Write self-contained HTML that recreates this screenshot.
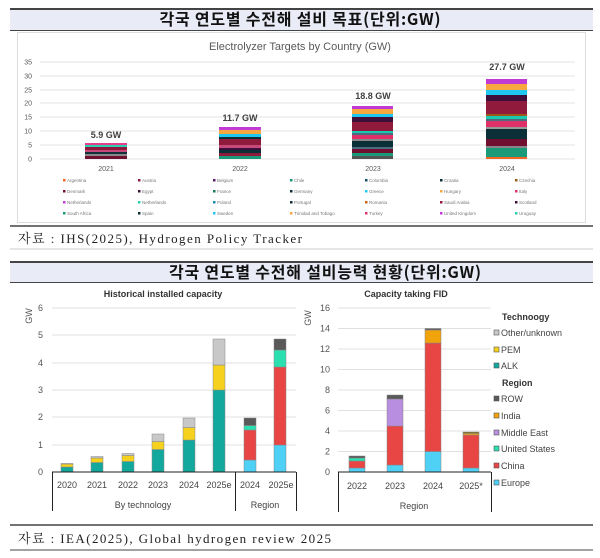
<!DOCTYPE html>
<html><head><meta charset="utf-8"><style>
body{margin:0;background:#fff;}
svg{display:block}
.k{font-family:"Noto Sans CJK KR","WenQuanYi Zen Hei",sans-serif;font-weight:bold}
.s{font-family:"Liberation Serif","Noto Serif CJK SC",serif}
.a{font-family:"Liberation Sans",Arial,sans-serif}
</style></head><body>
<svg width="600" height="558" viewBox="0 0 600 558" xmlns="http://www.w3.org/2000/svg">
<rect x="10" y="9" width="583" height="21" fill="#e9ebf7"/>
<line x1="10" y1="9" x2="593" y2="9" stroke="#444" stroke-width="2"/>
<line x1="10" y1="30.5" x2="593" y2="30.5" stroke="#444" stroke-width="1"/>
<text x="300" y="25" text-anchor="middle" class="k" font-size="16" fill="#111" textLength="281">각국 연도별 수전해 설비 목표(단위:GW)</text>
<rect x="17.5" y="32.5" width="568" height="190" fill="#fff" stroke="#ddd"/>
<text x="300" y="50" text-anchor="middle" class="a" font-size="11" fill="#595959">Electrolyzer Targets by Country (GW)</text>
<g class="a" font-size="7" fill="#595959" text-anchor="end">
<g stroke="#e3e3e3" stroke-width="1">
<line x1="40" y1="62" x2="575" y2="62"/><line x1="40" y1="76" x2="575" y2="76"/><line x1="40" y1="90" x2="575" y2="90"/><line x1="40" y1="103" x2="575" y2="103"/><line x1="40" y1="117" x2="575" y2="117"/><line x1="40" y1="131" x2="575" y2="131"/><line x1="40" y1="145" x2="575" y2="145"/><line x1="40" y1="159" x2="575" y2="159"/>
</g>
<text x="32" y="64.5">35</text><text x="32" y="78.5">30</text><text x="32" y="92.5">25</text><text x="32" y="105.5">20</text><text x="32" y="119.5">15</text><text x="32" y="133.5">10</text><text x="32" y="147.5">5</text><text x="32" y="161.5">0</text>
</g>
<g>
<rect x="85" y="143" width="42" height="16" fill="#5a2a4a"/>
<rect x="85" y="143" width="42" height="2" fill="#e43f8c"/>
<rect x="85" y="145" width="42" height="2" fill="#2ad0b0"/>
<rect x="85" y="147" width="42" height="3" fill="#8f1a3c"/>
<rect x="85" y="150" width="42" height="2" fill="#c54a7a"/>
<rect x="85" y="152" width="42" height="2" fill="#13303a"/>
<rect x="85" y="154" width="42" height="2" fill="#888"/>
<rect x="85" y="156" width="42" height="3" fill="#6f1030"/>
</g>
<g>
<rect x="219" y="127" width="42" height="32" fill="#6f1030"/>
<rect x="219" y="127" width="42" height="3" fill="#c23ad6"/>
<rect x="219" y="130" width="42" height="4" fill="#f7a740"/>
<rect x="219" y="134" width="42" height="3" fill="#1ec8f0"/>
<rect x="219" y="137" width="42" height="2" fill="#0b2f36"/>
<rect x="219" y="139" width="42" height="6" fill="#8f1a3c"/>
<rect x="219" y="145" width="42" height="3" fill="#c54a7a"/>
<rect x="219" y="148" width="42" height="2" fill="#3d0f3a"/>
<rect x="219" y="150" width="42" height="3" fill="#0b2f36"/>
<rect x="219" y="153" width="42" height="3" fill="#8f1a3c"/>
<rect x="219" y="156" width="42" height="3" fill="#1a9a78"/>
</g>
<g>
<rect x="352" y="106" width="41" height="53" fill="#6f1030"/>
<rect x="352" y="106" width="41" height="3" fill="#c23ad6"/>
<rect x="352" y="109" width="41" height="5" fill="#f7a740"/>
<rect x="352" y="114" width="41" height="3" fill="#1ec8f0"/>
<rect x="352" y="117" width="41" height="5" fill="#3d0f3a"/>
<rect x="352" y="122" width="41" height="9" fill="#8f1a3c"/>
<rect x="352" y="131" width="41" height="2" fill="#1bc9b0"/>
<rect x="352" y="133" width="41" height="2" fill="#4a6d80"/>
<rect x="352" y="135" width="41" height="4" fill="#e0306a"/>
<rect x="352" y="139" width="41" height="2" fill="#888"/>
<rect x="352" y="141" width="41" height="6" fill="#0b2f36"/>
<rect x="352" y="147" width="41" height="2" fill="#4a6d80"/>
<rect x="352" y="149" width="41" height="4" fill="#6f1030"/>
<rect x="352" y="153" width="41" height="3" fill="#1a9a78"/>
<rect x="352" y="156" width="41" height="3" fill="#555"/>
</g>
<g>
<rect x="486" y="79" width="41" height="80" fill="#6f1030"/>
<rect x="486" y="79" width="41" height="5" fill="#c23ad6"/>
<rect x="486" y="84" width="41" height="6" fill="#f7a740"/>
<rect x="486" y="90" width="41" height="5" fill="#1ec8f0"/>
<rect x="486" y="95" width="41" height="6" fill="#3d0f3a"/>
<rect x="486" y="101" width="41" height="13" fill="#8f1a3c"/>
<rect x="486" y="114" width="41" height="2" fill="#9b5a1a"/>
<rect x="486" y="116" width="41" height="3" fill="#1bc9b0"/>
<rect x="486" y="119" width="41" height="2" fill="#4a6d80"/>
<rect x="486" y="121" width="41" height="6" fill="#e0306a"/>
<rect x="486" y="127" width="41" height="2" fill="#999"/>
<rect x="486" y="129" width="41" height="10" fill="#0b2f36"/>
<rect x="486" y="139" width="41" height="7" fill="#6f1030"/>
<rect x="486" y="146" width="41" height="2" fill="#888"/>
<rect x="486" y="148" width="41" height="9" fill="#1a9a78"/>
<rect x="486" y="157" width="41" height="2" fill="#f26522"/>
</g>
<g class="a" font-size="9" font-weight="bold" fill="#404040" text-anchor="middle">
<text x="106" y="138">5.9 GW</text><text x="240" y="121">11.7 GW</text><text x="373" y="99">18.8 GW</text><text x="507" y="70">27.7 GW</text>
</g>
<g class="a" font-size="7" fill="#595959" text-anchor="middle">
<text x="106" y="171">2021</text><text x="240" y="171">2022</text><text x="373" y="171">2023</text><text x="507" y="171">2024</text>
</g>
<g class="a" font-size="4.5" fill="#777">
<g transform="translate(63,182)"><rect x="0" y="-3" width="2.5" height="2.5" fill="#f26522"/><text x="4">Argentina</text></g>
<g transform="translate(138,182)"><rect x="0" y="-3" width="2.5" height="2.5" fill="#8f1a3c"/><text x="4">Austria</text></g>
<g transform="translate(213,182)"><rect x="0" y="-3" width="2.5" height="2.5" fill="#5a1a6a"/><text x="4">Belgium</text></g>
<g transform="translate(290,182)"><rect x="0" y="-3" width="2.5" height="2.5" fill="#1a9a78"/><text x="4">Chile</text></g>
<g transform="translate(365,182)"><rect x="0" y="-3" width="2.5" height="2.5" fill="#13506a"/><text x="4">Colombia</text></g>
<g transform="translate(440,182)"><rect x="0" y="-3" width="2.5" height="2.5" fill="#0b2f36"/><text x="4">Croatia</text></g>
<g transform="translate(515,182)"><rect x="0" y="-3" width="2.5" height="2.5" fill="#9b5a1a"/><text x="4">Czechia</text></g>
<g transform="translate(63,193)"><rect x="0" y="-3" width="2.5" height="2.5" fill="#6f1030"/><text x="4">Denmark</text></g>
<g transform="translate(138,193)"><rect x="0" y="-3" width="2.5" height="2.5" fill="#3d0f3a"/><text x="4">Egypt</text></g>
<g transform="translate(213,193)"><rect x="0" y="-3" width="2.5" height="2.5" fill="#1a7a58"/><text x="4">France</text></g>
<g transform="translate(290,193)"><rect x="0" y="-3" width="2.5" height="2.5" fill="#0b2f36"/><text x="4">Germany</text></g>
<g transform="translate(365,193)"><rect x="0" y="-3" width="2.5" height="2.5" fill="#1ec8f0"/><text x="4">Greece</text></g>
<g transform="translate(440,193)"><rect x="0" y="-3" width="2.5" height="2.5" fill="#f7a740"/><text x="4">Hungary</text></g>
<g transform="translate(515,193)"><rect x="0" y="-3" width="2.5" height="2.5" fill="#e0306a"/><text x="4">Italy</text></g>
<g transform="translate(63,204)"><rect x="0" y="-3" width="2.5" height="2.5" fill="#c23ad6"/><text x="4">Netherlands</text></g>
<g transform="translate(138,204)"><rect x="0" y="-3" width="2.5" height="2.5" fill="#2ad0b0"/><text x="4">Netherlands</text></g>
<g transform="translate(213,204)"><rect x="0" y="-3" width="2.5" height="2.5" fill="#1a8aa8"/><text x="4">Poland</text></g>
<g transform="translate(290,204)"><rect x="0" y="-3" width="2.5" height="2.5" fill="#13303a"/><text x="4">Portugal</text></g>
<g transform="translate(365,204)"><rect x="0" y="-3" width="2.5" height="2.5" fill="#c8641a"/><text x="4">Romania</text></g>
<g transform="translate(440,204)"><rect x="0" y="-3" width="2.5" height="2.5" fill="#8f1a3c"/><text x="4">Saudi Arabia</text></g>
<g transform="translate(515,204)"><rect x="0" y="-3" width="2.5" height="2.5" fill="#3d0f3a"/><text x="4">Scotland</text></g>
<g transform="translate(63,215)"><rect x="0" y="-3" width="2.5" height="2.5" fill="#1a9a78"/><text x="4">South Africa</text></g>
<g transform="translate(138,215)"><rect x="0" y="-3" width="2.5" height="2.5" fill="#0b2f36"/><text x="4">Spain</text></g>
<g transform="translate(213,215)"><rect x="0" y="-3" width="2.5" height="2.5" fill="#1ec8f0"/><text x="4">Sweden</text></g>
<g transform="translate(290,215)"><rect x="0" y="-3" width="2.5" height="2.5" fill="#f7a740"/><text x="4">Trinidad and Tobago</text></g>
<g transform="translate(365,215)"><rect x="0" y="-3" width="2.5" height="2.5" fill="#e0306a"/><text x="4">Turkey</text></g>
<g transform="translate(440,215)"><rect x="0" y="-3" width="2.5" height="2.5" fill="#c23ad6"/><text x="4">United Kingdom</text></g>
<g transform="translate(515,215)"><rect x="0" y="-3" width="2.5" height="2.5" fill="#2ad0b0"/><text x="4">Uruguay</text></g>
</g>
<line x1="10" y1="226" x2="593" y2="226" stroke="#444" stroke-width="1.5"/>
<text x="18" y="243" class="s" font-size="13" fill="#222" textLength="284">자료 : IHS(2025), Hydrogen Policy Tracker</text>
<line x1="10" y1="249" x2="593" y2="249" stroke="#ccc" stroke-width="1"/>

<rect x="10" y="262" width="583" height="20" fill="#e9ebf7"/>
<line x1="10" y1="262" x2="593" y2="262" stroke="#444" stroke-width="2"/>
<line x1="10" y1="282.5" x2="593" y2="282.5" stroke="#444" stroke-width="1"/>
<text x="325" y="278" text-anchor="middle" class="k" font-size="16" fill="#111" textLength="312">각국 연도별 수전해 설비능력 현황(단위:GW)</text>

<text x="163" y="297" text-anchor="middle" class="a" font-size="9" font-weight="bold" fill="#333">Historical installed capacity</text>
<text x="406" y="297" text-anchor="middle" class="a" font-size="9" font-weight="bold" fill="#333">Capacity taking FID</text>

<g stroke="#e0e0e0" stroke-width="1">
<line x1="52" y1="308" x2="296" y2="308"/><line x1="52" y1="335" x2="296" y2="335"/><line x1="52" y1="363" x2="296" y2="363"/><line x1="52" y1="390" x2="296" y2="390"/><line x1="52" y1="417" x2="296" y2="417"/><line x1="52" y1="445" x2="296" y2="445"/>
</g>
<g class="a" font-size="9" fill="#555" text-anchor="end">
<text x="43" y="311">6</text><text x="43" y="338">5</text><text x="43" y="366">4</text><text x="43" y="393">3</text><text x="43" y="420">2</text><text x="43" y="448">1</text><text x="43" y="475">0</text>
</g>
<text transform="translate(32,316) rotate(-90)" text-anchor="middle" class="a" font-size="9" fill="#555">GW</text>
<g stroke="#888" stroke-width="0.5">
<rect x="61" y="467" width="12" height="5" fill="#13a89e"/><rect x="61" y="464" width="12" height="3" fill="#f6d21f"/><rect x="61" y="463.5" width="12" height="0.5" fill="#c8c8c8"/>
<rect x="91" y="462.5" width="12" height="9.5" fill="#13a89e"/><rect x="91" y="458" width="12" height="4.5" fill="#f6d21f"/><rect x="91" y="456.5" width="12" height="1.5" fill="#c8c8c8"/>
<rect x="122" y="461.5" width="12" height="10.5" fill="#13a89e"/><rect x="122" y="455.5" width="12" height="6" fill="#f6d21f"/><rect x="122" y="453.5" width="12" height="2" fill="#c8c8c8"/>
<rect x="152" y="449.5" width="12" height="22.5" fill="#13a89e"/><rect x="152" y="441.5" width="12" height="8" fill="#f6d21f"/><rect x="152" y="434" width="12" height="7.5" fill="#c8c8c8"/>
<rect x="183" y="440" width="12" height="32" fill="#13a89e"/><rect x="183" y="427.5" width="12" height="12.5" fill="#f6d21f"/><rect x="183" y="418" width="12" height="9.5" fill="#c8c8c8"/>
<rect x="213" y="390" width="12" height="82" fill="#13a89e"/><rect x="213" y="365" width="12" height="25" fill="#f6d21f"/><rect x="213" y="339" width="12" height="26" fill="#c8c8c8"/>
<rect x="244" y="460" width="12" height="12" fill="#4fd0f5"/><rect x="244" y="430" width="12" height="30" fill="#e84545"/><rect x="244" y="425.5" width="12" height="4.5" fill="#2be0b0"/><rect x="244" y="418" width="12" height="7.5" fill="#595959"/>
<rect x="274" y="445" width="12" height="27" fill="#4fd0f5"/><rect x="274" y="367" width="12" height="78" fill="#e84545"/><rect x="274" y="350" width="12" height="17" fill="#2be0b0"/><rect x="274" y="339" width="12" height="11" fill="#595959"/>
</g>
<g stroke="#222" stroke-width="1">
<line x1="52" y1="472" x2="296" y2="472"/>
<line x1="52.5" y1="472" x2="52.5" y2="511"/><line x1="235.5" y1="472" x2="235.5" y2="511"/><line x1="296.5" y1="472" x2="296.5" y2="511"/>
</g>
<g class="a" font-size="9" fill="#444" text-anchor="middle">
<text x="67" y="488">2020</text><text x="97" y="488">2021</text><text x="128" y="488">2022</text><text x="158" y="488">2023</text><text x="189" y="488">2024</text><text x="219" y="488">2025e</text><text x="250" y="488">2024</text><text x="281" y="488">2025e</text>
<text x="143" y="508">By technology</text><text x="265" y="508">Region</text>
</g>

<g stroke="#e0e0e0" stroke-width="1">
<line x1="338" y1="308" x2="491" y2="308"/><line x1="338" y1="328.5" x2="491" y2="328.5"/><line x1="338" y1="349" x2="491" y2="349"/><line x1="338" y1="369.5" x2="491" y2="369.5"/><line x1="338" y1="390" x2="491" y2="390"/><line x1="338" y1="410.5" x2="491" y2="410.5"/><line x1="338" y1="431" x2="491" y2="431"/><line x1="338" y1="451.5" x2="491" y2="451.5"/>
</g>
<g class="a" font-size="9" fill="#555" text-anchor="end">
<text x="330" y="311">16</text><text x="330" y="331.5">14</text><text x="330" y="352">12</text><text x="330" y="372.5">10</text><text x="330" y="393">8</text><text x="330" y="413.5">6</text><text x="330" y="434">4</text><text x="330" y="454.5">2</text><text x="330" y="475">0</text>
</g>
<text transform="translate(311,318) rotate(-90)" text-anchor="middle" class="a" font-size="9" fill="#555">GW</text>
<g stroke="#888" stroke-width="0.5">
<rect x="349" y="468" width="16" height="4" fill="#4fd0f5"/><rect x="349" y="461" width="16" height="7" fill="#e84545"/><rect x="349" y="458" width="16" height="3" fill="#2be0b0"/><rect x="349" y="456" width="16" height="2" fill="#595959"/>
<rect x="387" y="465" width="16" height="7" fill="#4fd0f5"/><rect x="387" y="426" width="16" height="39" fill="#e84545"/><rect x="387" y="399" width="16" height="27" fill="#b88ee0"/><rect x="387" y="395" width="16" height="4" fill="#595959"/>
<rect x="425" y="451.5" width="16" height="20.5" fill="#4fd0f5"/><rect x="425" y="343" width="16" height="108.5" fill="#e84545"/><rect x="425" y="330" width="16" height="13" fill="#f0a30a"/><rect x="425" y="328.5" width="16" height="1.5" fill="#595959"/>
<rect x="463" y="468" width="16" height="4" fill="#4fd0f5"/><rect x="463" y="435" width="16" height="33" fill="#e84545"/><rect x="463" y="433" width="16" height="2" fill="#f0a30a"/><rect x="463" y="432" width="16" height="1.5" fill="#7a6a2a"/>
</g>
<g stroke="#222" stroke-width="1">
<line x1="338" y1="472" x2="491" y2="472"/>
<line x1="338.5" y1="472" x2="338.5" y2="512"/><line x1="491.5" y1="472" x2="491.5" y2="512"/>
</g>
<g class="a" font-size="9" fill="#444" text-anchor="middle">
<text x="357" y="489">2022</text><text x="395" y="489">2023</text><text x="433" y="489">2024</text><text x="471" y="489">2025*</text>
<text x="414" y="509">Region</text>
</g>
<g class="a" font-size="9" fill="#444">
<text x="502" y="320" font-weight="bold" fill="#333">Technoogy</text>
<rect x="494" y="330" width="5" height="5" fill="#c8c8c8" stroke="#555" stroke-width="0.6"/><text x="501" y="336">Other/unknown</text>
<rect x="494" y="347" width="5" height="5" fill="#f6d21f" stroke="#555" stroke-width="0.6"/><text x="501" y="353">PEM</text>
<rect x="494" y="363" width="5" height="5" fill="#13a89e" stroke="#555" stroke-width="0.6"/><text x="501" y="369">ALK</text>
<text x="502" y="386" font-weight="bold" fill="#333">Region</text>
<rect x="494" y="396" width="5" height="5" fill="#595959" stroke="#555" stroke-width="0.6"/><text x="501" y="402">ROW</text>
<rect x="494" y="413" width="5" height="5" fill="#f0a30a" stroke="#555" stroke-width="0.6"/><text x="501" y="419">India</text>
<rect x="494" y="430" width="5" height="5" fill="#b88ee0" stroke="#555" stroke-width="0.6"/><text x="501" y="436">Middle East</text>
<rect x="494" y="446" width="5" height="5" fill="#2be0b0" stroke="#555" stroke-width="0.6"/><text x="501" y="452">United States</text>
<rect x="494" y="463" width="5" height="5" fill="#e84545" stroke="#555" stroke-width="0.6"/><text x="501" y="469">China</text>
<rect x="494" y="480" width="5" height="5" fill="#4fd0f5" stroke="#555" stroke-width="0.6"/><text x="501" y="486">Europe</text>
</g>

<line x1="10" y1="525" x2="593" y2="525" stroke="#444" stroke-width="1.5"/>
<text x="18" y="543" class="s" font-size="13" fill="#222" textLength="313">자료 : IEA(2025), Global hydrogen review 2025</text>
<line x1="10" y1="550" x2="593" y2="550" stroke="#444" stroke-width="1"/>
</svg>
</body></html>
